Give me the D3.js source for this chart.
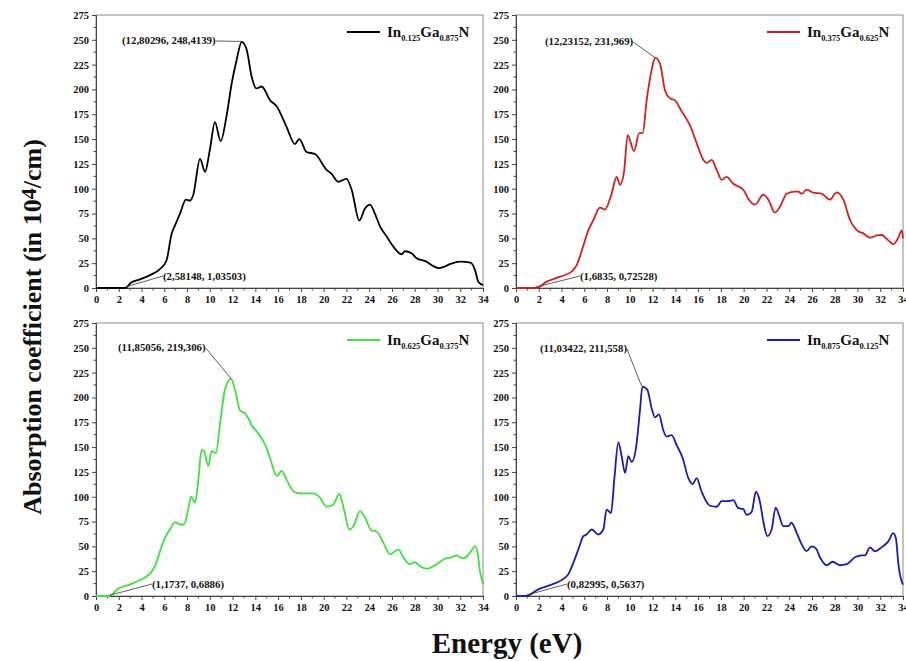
<!DOCTYPE html>
<html>
<head>
<meta charset="utf-8">
<script src="https://cdn.jsdelivr.net/npm/d3@7"></script>
<style>
  html,body{margin:0;padding:0;background:#fff;}
  svg text{font-family:"Liberation Serif","Times New Roman",serif;font-weight:bold;fill:#111;}
</style>
</head>
<body>
<svg id="chart" width="906" height="661"></svg>
<script>
'use strict';
/* four absorption spectra of InGaN alloys, 2x2 grid */

const xTicks=d3.range(0,35,2), yTicks=d3.range(0,276,25);

// [energy eV, absorption 1e4/cm]
const black=[[0,0],[2.58,0],[3.0,4.7],[3.87,8.7],[4.74,13],[5.62,19],[6.2,28],[6.65,55],[6.94,63],[7.38,75],[7.9,89],[8.26,88],[8.55,94],
 [9.14,130],[9.58,117],[10.0,139],[10.45,167],[10.95,148],[11.48,174],[11.92,206],[12.36,230],[12.8,248],[13.24,240],[13.67,213],
 [14.1,201],[14.55,203],[15.3,189],[15.87,183],[16.75,162],[17.48,145],[17.86,150],[18.5,137],[19.24,135],[20.26,119],[20.7,115],
 [21.29,107],[22.0,110],[22.46,99],[23.13,68],[23.63,80],[24.07,84],[24.5,75],[24.95,62],[25.53,52],[26.1,42],[26.85,34],[27.14,37],
 [27.73,35],[28.17,30],[29.05,26.5],[29.5,23],[30.1,20],[30.6,21.5],[31.2,24.5],[32.0,26.5],[32.9,25.5],[33.3,18],[33.6,6],[34,3]];
const red=[[0,0],[1.75,0],[2.7,6.4],[3.87,11.4],[4.89,16.5],[5.33,23],[5.9,42],[6.35,58],[6.8,68.5],[7.38,81],[7.82,79],[8.4,95],
 [8.84,112],[9.14,104],[9.49,117],[9.81,154],[10.37,138],[10.83,156],[11.13,156],[11.48,189],[11.92,220],[12.23,232],[12.65,226],
 [13.09,199],[13.53,191],[13.97,189],[14.55,178],[15.28,164],[15.87,146],[16.46,129],[16.75,126],[17.19,129],[17.63,119],[18.07,109],
 [18.5,112],[19.09,105],[19.97,99],[20.4,90],[21.0,84],[21.73,94],[22.17,89],[22.75,76],[23.2,82],[23.78,95],[24.51,97],[24.8,97],
 [25.1,95],[25.53,99],[26.12,96],[26.85,95],[27.58,89],[28.17,96.4],[28.76,89],[29.34,68.5],[29.93,58.4],[30.51,55],[31.1,50.7],
 [31.68,53],[32.12,53.4],[32.71,48],[33.15,44],[33.6,51],[33.9,58],[34,50]];
const green=[[0,0],[1.1,0],[1.96,7.4],[3.0,11.7],[4.0,16.8],[4.74,22.5],[5.18,30],[5.62,45],[6.06,58.7],[6.5,67],[6.94,74.4],
 [7.38,72],[7.73,72],[8.1,87],[8.35,100],[8.7,94],[8.99,117],[9.28,147.5],[9.49,146],[9.87,131],[10.16,146],[10.54,144],[10.9,174],
 [11.33,208],[11.85,219],[12.21,208],[12.65,187],[13.09,184],[13.38,179],[13.67,172],[14.11,166],[14.85,152.6],[15.29,139],
 [15.87,121],[16.31,126],[16.75,117],[17.34,105.6],[17.92,103.3],[19.1,103.3],[19.68,99],[20.26,90],[20.85,92],[21.38,103],
 [21.79,87],[22.25,67],[22.6,70],[23.19,85.5],[23.63,79],[24.2,66],[24.66,65],[25.24,53.7],[25.83,42],[26.56,47],[27.0,39],
 [27.58,32],[28.02,34],[28.46,30],[29.05,27.5],[29.93,32],[30.66,37.6],[31.24,39],[31.68,41],[32.2,38],[32.6,40],[33.0,46],
 [33.3,50],[33.5,45],[33.75,24],[34,12]];
const blue=[[0,0],[0.9,0],[1.96,6.7],[3.0,11],[4.0,16],[4.6,22],[5.04,33.5],[5.56,49.6],[5.9,60],[6.2,62],[6.65,67],[7.23,62],
 [7.67,67],[7.96,87],[8.35,83.5],[8.64,118],[8.99,154.6],[9.28,141],[9.58,124],[9.87,141],[10.16,135],[10.54,149],[10.9,188],
 [11.1,211],[11.54,207.6],[11.92,189],[12.21,180],[12.56,183],[12.94,167],[13.24,160.6],[13.67,162],[14.11,152],[14.64,139],
 [15.14,118.7],[15.52,112.7],[15.87,118.7],[16.31,105],[17.04,90.9],[17.63,89.9],[18.07,95.6],[18.65,95.6],[19.09,96.6],
 [19.53,88.5],[19.97,87.5],[20.26,81.8],[20.7,84.5],[21.08,105],[21.43,95],[21.73,75],[22.08,60.4],[22.46,67],[22.81,89],
 [23.13,80.8],[23.48,70.4],[23.92,70.4],[24.2,73.8],[24.66,63.7],[25.1,52],[25.53,45.3],[25.97,50],[26.35,48],[26.7,39],
 [27.29,31],[27.82,34.5],[28.46,31],[29.05,32],[29.78,39],[30.37,41],[30.66,41],[31.1,49],[31.54,45],[32.12,49],[32.71,55],
 [33.15,63.4],[33.38,58],[33.6,31.5],[33.88,14.8],[34,11.4]];

const panels=[
  {data:black,color:'#000000',In:'0.125',Ga:'0.875',peak:[12.80296,248.4139],peakLbl:'(12,80296, 248,4139)',
   edge:[2.58148,1.03503],edgeLbl:'(2,58148, 1,03503)'},
  {data:red,color:'#d11f1f',In:'0.375',Ga:'0.625',peak:[12.23152,231.969],peakLbl:'(12,23152, 231,969)',
   edge:[1.6835,0.72528],edgeLbl:'(1,6835, 0,72528)'},
  {data:green,color:'#3ee03e',In:'0.625',Ga:'0.375',peak:[11.85056,219.306],peakLbl:'(11,85056, 219,306)',
   edge:[1.1737,0.6886],edgeLbl:'(1,1737, 0,6886)'},
  {data:blue,color:'#1b1bb0',In:'0.875',Ga:'0.125',peak:[11.03422,211.558],peakLbl:'(11,03422, 211,558)',
   edge:[0.82995,0.5637],edgeLbl:'(0,82995, 0,5637)'}
];

// layout: panel boxes in px
const boxes=[{x:96,y:15},{x:516,y:15},{x:96,y:323},{x:516,y:323}];
const PW=387, PH=273;
// where the annotation text sits, relative to the box
const peakTxt=[{x:26,y:29},{x:29,y:30},{x:22,y:28},{x:24,y:29}];
const edgeTxt=[{x:67,y:265},{x:64,y:265},{x:56,y:265},{x:51,y:265}];

const svg=d3.select('#chart');

panels.forEach((p,i)=>{
  const b=boxes[i];
  const g=svg.append('g').attr('transform',`translate(${b.x},${b.y})`);
  const x=d3.scaleLinear().domain([0,34]).range([0,PW]);
  const y=d3.scaleLinear().domain([0,275]).range([PH,0]);

  g.append('rect').attr('width',PW).attr('height',PH).attr('fill','none').attr('stroke','#8a8a8a').attr('stroke-width',1);

  // minor ticks
  g.selectAll('.xm').data(d3.range(1,34,2)).join('line').attr('x1',d=>x(d)).attr('x2',d=>x(d))
    .attr('y1',PH).attr('y2',PH+2.5).attr('stroke','#444');
  g.selectAll('.ym').data(d3.range(12.5,275,25)).join('line').attr('y1',d=>y(d)).attr('y2',d=>y(d))
    .attr('x1',0).attr('x2',-2.5).attr('stroke','#444');

  const xa=g.append('g').attr('transform',`translate(0,${PH})`)
    .call(d3.axisBottom(x).tickValues(xTicks).tickSize(4).tickPadding(4).tickFormat(d3.format('d')));
  const ya=g.append('g').call(d3.axisLeft(y).tickValues(yTicks).tickSize(4).tickPadding(3).tickFormat(d3.format('d')));
  [xa,ya].forEach(a=>{a.select('.domain').attr('stroke','#444');a.selectAll('.tick line').attr('stroke','#444');
    a.selectAll('text').attr('font-size',10.5).attr('font-family','"Liberation Serif",serif').attr('font-weight','bold').attr('fill','#111');});

  const line=d3.line().x(d=>x(d[0])).y(d=>y(d[1])).curve(d3.curveMonotoneX);
  g.append('path').datum(p.data).attr('d',line).attr('fill','none').attr('stroke',p.color).attr('stroke-width',1.8);

  // annotations with leader lines
  const pt=peakTxt[i], et=edgeTxt[i];
  const pk=g.append('text').attr('x',pt.x).attr('y',pt.y).attr('font-size',10.8).text(p.peakLbl);
  const pw=pk.node().getComputedTextLength();
  g.append('line').attr('x1',pt.x+pw).attr('y1',pt.y-3).attr('x2',x(p.peak[0])).attr('y2',y(p.peak[1]))
    .attr('stroke','#333').attr('stroke-width',0.8);
  g.append('text').attr('x',et.x).attr('y',et.y).attr('font-size',10.8).text(p.edgeLbl);
  g.append('line').attr('x1',et.x).attr('y1',et.y-4).attr('x2',x(p.edge[0])).attr('y2',y(p.edge[1]))
    .attr('stroke','#333').attr('stroke-width',0.8);

  // legend
  g.append('line').attr('x1',PW-136).attr('x2',PW-103).attr('y1',17).attr('y2',17).attr('stroke',p.color).attr('stroke-width',1.8);
  const t=g.append('text').attr('x',PW-96).attr('y',22).attr('font-size',15);
  t.append('tspan').text('In');
  t.append('tspan').attr('font-size',8.5).attr('dy',4).text(p.In);
  t.append('tspan').attr('dy',-4).text('Ga');
  t.append('tspan').attr('font-size',8.5).attr('dy',4).text(p.Ga);
  t.append('tspan').attr('dy',-4).text('N');
});

// shared axis titles
const yl=svg.append('text').attr('transform','translate(41,327) rotate(-90)').attr('text-anchor','middle').attr('font-size',26);
yl.append('tspan').text('Absorption coefficient (in 10');
yl.append('tspan').attr('font-size',22).attr('dy',-5).text('4');
yl.append('tspan').attr('dy',5).text('/cm)');

svg.append('text').attr('x',507).attr('y',653).attr('text-anchor','middle').attr('font-size',29).text('Energy (eV)');
</script>
</body>
</html>
